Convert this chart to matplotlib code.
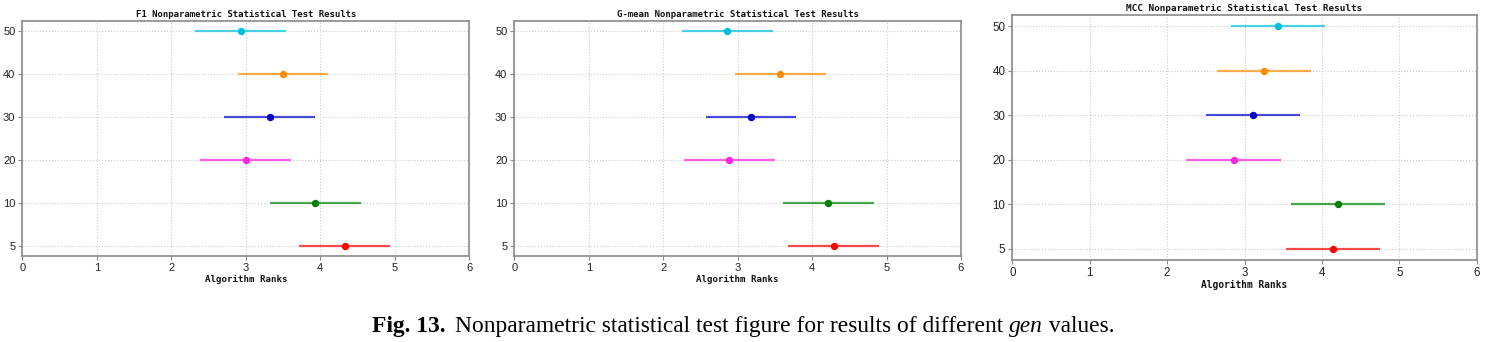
import matplotlib
matplotlib.use("Agg")
import matplotlib.pyplot as plt

categories = ["5", "10", "20", "30", "40", "50"]
colors = ["red", "green", "#ff22dd", "mediumblue", "darkorange", "#00c0e0"]

f1_ranks = [4.33, 3.93, 3.00, 3.32, 3.50, 2.93]
gmean_ranks = [4.29, 4.22, 2.89, 3.18, 3.57, 2.86]
mcc_ranks = [4.14, 4.21, 2.86, 3.11, 3.25, 3.43]
half_widths = [0.61, 0.61, 0.61]

titles = ["F1 Nonparametric Statistical Test Results",
          "G-mean Nonparametric Statistical Test Results",
          "MCC Nonparametric Statistical Test Results"]
xlabel = "Algorithm Ranks"
xticks = [0, 1, 2, 3, 4, 5, 6]
caption_bold = "Fig. 13."
caption_rest = "Nonparametric statistical test figure for results of different "
caption_ital = "gen"
caption_end = " values."

W, H = 1486, 342
fig = plt.figure(figsize=(W / 100, H / 100), dpi=100)

boxes = [
    (22.3, 20.7, 469.3, 256.3),
    (514.3, 20.7, 961.0, 256.3),
    (1012.3, 15.0, 1476.7, 260.0),
]
scales = [1.0, 1.0, 1.04]
mono = "DejaVu Sans Mono"

for ranks, hw, title, box, sc in zip([f1_ranks, gmean_ranks, mcc_ranks], half_widths, titles, boxes, scales):
    l, t, r, b = box
    ax = fig.add_axes([l / W, 1 - b / H, (r - l) / W, (b - t) / H])
    ypos = list(range(len(categories)))
    for y, x, c in zip(ypos, ranks, colors):
        ax.plot([x - hw, x + hw], [y, y], color=c, lw=1.6, alpha=0.7, solid_capstyle="butt", zorder=3)
        ax.plot([x], [y], "o", color=c, ms=4.3, zorder=4)
    ax.set_xlim(0, 6)
    ax.set_ylim(-0.25, len(categories) - 1 + 0.25)
    ax.set_yticks(ypos)
    ax.set_yticklabels(categories)
    ax.set_xticks(xticks)
    ax.grid(True, linestyle=":", color="#cccccc", lw=0.8)
    ax.set_axisbelow(True)
    for s in ax.spines.values():
        s.set_color("#8a8a8a")
        s.set_linewidth(1.2)
    ax.tick_params(axis="both", length=3, width=0.8, color="#8a8a8a", pad=2,
                   labelsize=8 * sc, labelcolor="#222222")
    for lab in ax.get_xticklabels() + ax.get_yticklabels():
        lab.set_family("Liberation Sans")
    ax.set_title(title, family=mono, fontsize=6.5 * sc, pad=3, color="#111111", weight="bold")
    ax.set_xlabel(xlabel, family=mono, fontsize=6.6 * sc, labelpad=1, color="#111111", weight="bold")

# Caption
cap_y = 1 - 331.7 / H
fs = 16.9
t1 = fig.text(372.3 / W, cap_y, caption_bold, family="Liberation Serif", weight="bold",
              fontsize=fs, va="baseline", ha="left")
fig.canvas.draw()
renderer = fig.canvas.get_renderer()
def right_of(txt, gap=0):
    bb = txt.get_window_extent(renderer)
    return (bb.x1 + gap) / W
t2 = fig.text(right_of(t1, 9), cap_y, caption_rest, family="Liberation Serif", fontsize=fs, va="baseline", ha="left")
fig.canvas.draw()
t3 = fig.text(right_of(t2, 0), cap_y, caption_ital, family="Liberation Serif", style="italic", fontsize=fs, va="baseline", ha="left")
fig.canvas.draw()
t4 = fig.text(right_of(t3, 0), cap_y, caption_end, family="Liberation Serif", fontsize=fs, va="baseline", ha="left")

fig.savefig("out.png", dpi=100)
